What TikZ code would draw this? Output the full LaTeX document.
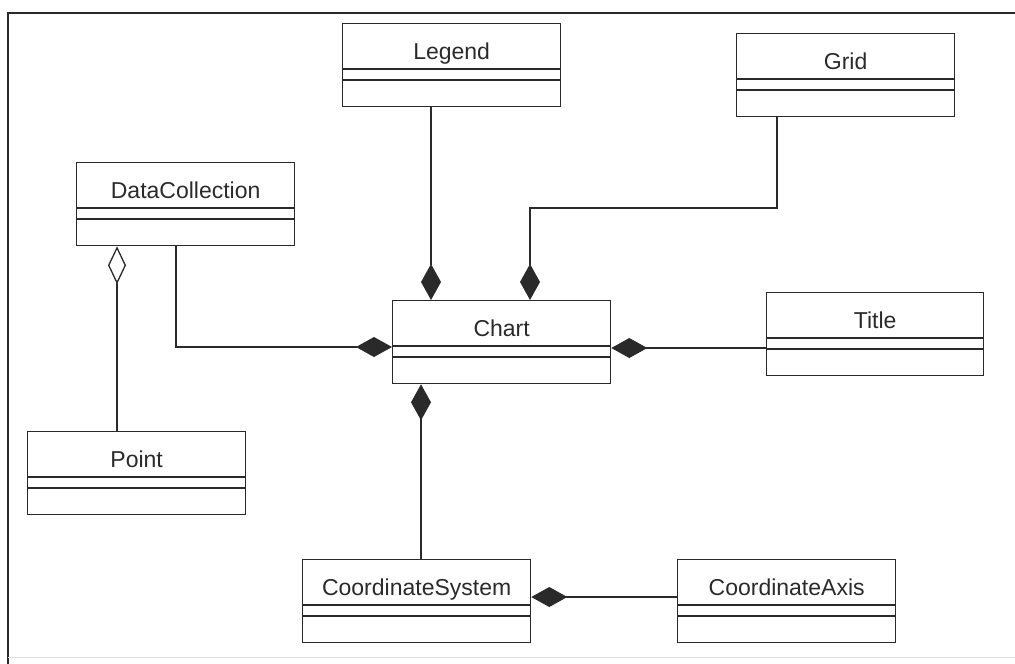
\documentclass[tikz,border=0pt]{standalone}
\usepackage{fontspec}
\setmainfont{Liberation Sans}
\usetikzlibrary{arrows.meta,calc}
\definecolor{ink}{HTML}{2A2A2A}
\tikzset{
  x=1pt, y=-1pt,
  umlbox/.style={draw=ink, line width=1.3pt, rectangle, inner sep=0pt, anchor=north west, minimum height=83pt},
  umltext/.style={font=\fontsize{23}{26}\selectfont, text=ink, inner sep=0pt, anchor=base},
  divider/.style={draw=ink, line width=1.3pt},
  comp/.style={draw=ink, line width=1.3pt, -{Diamond[length=36pt,width=20pt,fill=ink]}},
  agg/.style={draw=ink, line width=1.3pt, -{Diamond[length=38pt,width=18pt,open,fill=white]}},
}
\newcommand\umlclass[5]{%
  \node[umlbox, minimum width=#4] (#1) at (#2,#3) {};
  \node[umltext] (#1-name) at ($(#1.north)+(0,36)$) {#5};
  \draw[divider] ($(#1.north west)+(0,46)$) -- ($(#1.north east)+(0,46)$);
  \draw[divider] ($(#1.north west)+(0,57)$) -- ($(#1.north east)+(0,57)$);
}
\begin{document}
\begin{tikzpicture}
\useasboundingbox (0,0) rectangle (1015,664);
% frame
\coordinate (ftl) at (8,13);
\coordinate (ftr) at (1015,13);
\coordinate (fbl) at (8,664);
\coordinate (fbl2) at (8,657);
\coordinate (fbr2) at (1015,657);
\draw[ink, line width=2pt] (fbl) -- (ftl) -- (ftr);
\draw[black!12, line width=1pt] (fbl2) -- (fbr2);
% classes
\umlclass{legend}{342}{23}{218pt}{Legend}
\umlclass{grid}{736}{33}{218pt}{Grid}
\umlclass{dc}{76}{162}{218pt}{DataCollection}
\umlclass{chart}{392}{300}{218pt}{Chart}
\umlclass{title}{766}{292}{217pt}{Title}
\umlclass{point}{27}{431}{218pt}{Point}
\umlclass{cs}{302}{559}{228pt}{CoordinateSystem}
\umlclass{ca}{677}{559}{218pt}{CoordinateAxis}
% guide coordinates
\coordinate (xleg) at (431,0);
\coordinate (xgrid) at (777,0);
\coordinate (gbend) at (777,208);
\coordinate (gbend2) at (530,208);
\coordinate (xdc) at (176,0);
\coordinate (ydc) at (0,347);
\coordinate (xpt) at (117,0);
\coordinate (ytitle) at (0,348);
\coordinate (xcs) at (421,0);
\coordinate (yca) at (0,597);
% connectors
\draw[comp] (legend.south -| xleg) -- (chart.north -| xleg);
\draw[comp] (grid.south -| xgrid) -- (gbend) -- (gbend2) -- (chart.north -| gbend2);
\draw[comp] (dc.south -| xdc) |- (chart.west |- ydc);
\draw[agg] (point.north -| xpt) -- (dc.south -| xpt);
\draw[comp] (title.west |- ytitle) -- (chart.east |- ytitle);
\draw[comp] (cs.north -| xcs) -- (chart.south -| xcs);
\draw[comp] (ca.west |- yca) -- (cs.east |- yca);
\end{tikzpicture}
\end{document}
